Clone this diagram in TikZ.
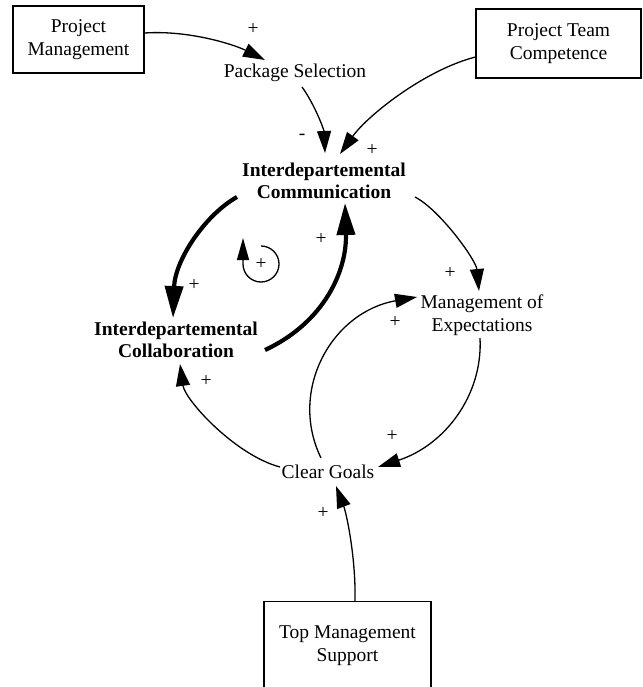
\documentclass[tikz,border=0pt]{standalone}
\usepackage{fontspec}
\setmainfont{Liberation Serif}
\usetikzlibrary{arrows.meta,calc}
\begin{document}
\begin{tikzpicture}[x=1pt,y=-1pt,
  font=\fontsize{19.5}{23}\selectfont,
  box/.style={draw, line width=1.2pt, align=center, inner sep=0pt},
  lbl/.style={align=center, inner sep=0pt},
  blbl/.style={align=center, inner sep=0pt, font=\fontsize{19.5}{22}\selectfont\bfseries},
  sgn/.style={inner sep=0pt},
  thinarr/.style={line width=1.3pt, -{Triangle[length=22pt,width=14pt]}},
  thickarr/.style={line width=4.2pt, -{Triangle[length=32pt,width=18pt]}},
  looparr/.style={line width=1.3pt, -{Triangle[length=22pt,width=12pt]}}]
\useasboundingbox (0,0) rectangle (642,687);
% nodes
\node[box, minimum width=131pt, minimum height=67pt] (pm) at (78.5,39.5) {Project\\Management};
\node[box, minimum width=165pt, minimum height=69pt] (ptc) at (558.5,43.5) {Project Team\\Competence};
\node[draw, line width=1.2pt, minimum width=167pt, minimum height=100pt, anchor=north] (tmsbox) at (347.5,601) {};
\node[lbl] (tms) at (347.5,646) {Top Management\\Support};
\node[lbl] (ps) at (295,73) {Package Selection};
\node[blbl] (ic) at (324,181) {Interdepartemental\\Communication};
\node[blbl] (icol) at (176,340) {Interdepartemental\\Collaboration};
\node[lbl] (me) at (482,315) {Management of\\Expectations};
\node[lbl] (cg) at (328,472) {Clear Goals};
% signs
\node[sgn] (s1) at (253,29) {+};
\node[sgn] (s2) at (302,137) {-};
\node[sgn] (s3) at (372,150) {+};
\node[sgn] (s4) at (450,273) {+};
\node[sgn] (s5) at (395,322) {+};
\node[sgn] (s6) at (392,436) {+};
\node[sgn] (s7) at (206,381) {+};
\node[sgn] (s8) at (323,513) {+};
\node[sgn] (s9) at (194,285) {+};
\node[sgn] (s10) at (321,239) {+};
\node[sgn] (loopplus) at (261,264) {+};
% connectors
\draw[thinarr] ($(pm.east)+(0,-6.5)$) .. controls (190,30) and (235,45) .. ($(ps.center)+(-30,-13)$);
\draw[thinarr] ($(ps.center)+(7,14)$) .. controls (315,105) and (324,130) .. ($(ic.center)+(1,-28)$);
\draw[thinarr] ($(ptc.west)+(0,13.5)$) .. controls (425,70) and (368,115) .. ($(ic.center)+(16,-27)$);
\draw[thinarr] ($(ic.center)+(91,16)$) .. controls (440,210) and (476,260) .. ($(me.center)+(-3,-24)$);
\draw[thinarr] ($(me.center)+(-2,23)$) .. controls (483,395) and (445,445) .. ($(cg.center)+(50,-5)$);
\draw[thinarr] ($(cg.center)+(-7,-14)$) .. controls (288,390) and (332,312) .. ($(me.center)+(-65,-18)$);
\draw[thinarr] ($(cg.center)+(-48,-5)$) .. controls (235,455) and (185,400) .. ($(icol.center)+(4,24)$);
\draw[thinarr] ($(tmsbox.north)+(7.5,0)$) .. controls (356,560) and (347,515) .. ($(cg.center)+(8,14)$);
\draw[thickarr] ($(ic.center)+(-87,16)$) .. controls (205,215) and (175,260) .. ($(icol.center)+(-3,-22)$);
\draw[thickarr] ($(icol.center)+(89,10)$) .. controls (325,322) and (347,270) .. ($(ic.center)+(21,22)$);
% loop symbol
\draw[looparr] ($(loopplus.center)+(0,-18)$) arc[start angle=90, end angle=-180, radius=18pt] -- ++(0,-26);
\end{tikzpicture}
\end{document}
